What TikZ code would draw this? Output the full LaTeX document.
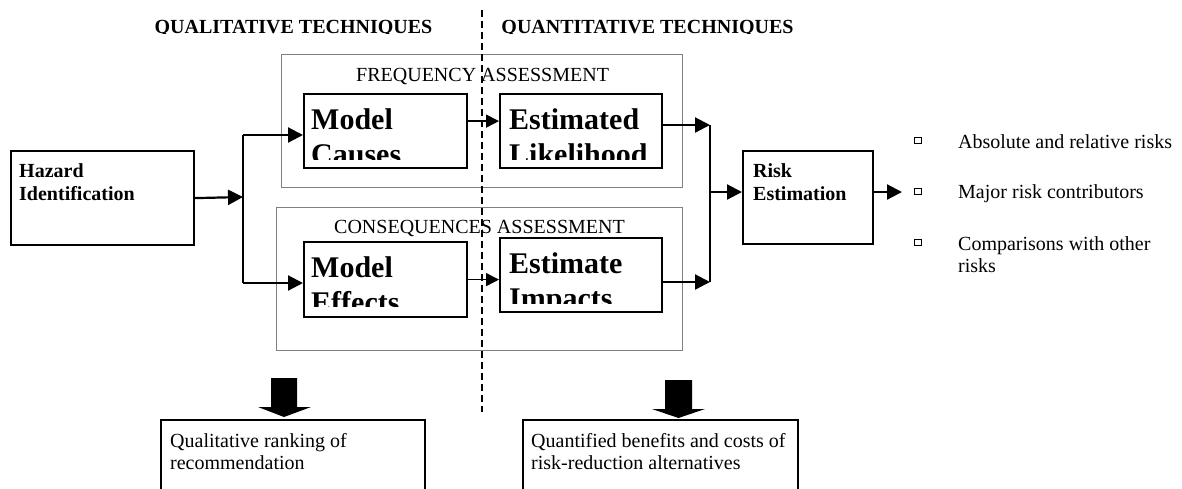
\documentclass[tikz,border=0pt]{standalone}
\usepackage{fontspec}
\setmainfont{Liberation Serif}
\usetikzlibrary{arrows.meta}

\begin{document}
\begin{tikzpicture}[x=1pt,y=-1pt,
	box/.style={draw,line width=2.2pt,inner sep=0pt,anchor=north west},
	area/.style={draw=gray,line width=1pt,inner sep=0pt,anchor=north west},
	link/.style={line width=2.2pt},
	conn/.style={line width=2.2pt,-{Triangle[length=15pt,width=15pt]}},
	thinconn/.style={line width=1.5pt,-{Triangle[length=13pt,width=13pt]}},
	divider/.style={line width=2pt,dash pattern=on 7pt off 4pt},
	header/.style={font=\fontsize{20}{23}\selectfont\bfseries,inner sep=0pt,anchor=base},
	title/.style={font=\fontsize{20}{23}\selectfont,inner sep=0pt,anchor=base west},
	bold/.style={font=\fontsize{20}{23}\selectfont\bfseries,inner sep=0pt,anchor=north west,align=left},
	big/.style={font=\fontsize{30}{35}\selectfont\bfseries,inner sep=0pt,anchor=north west,align=left},
	plain/.style={font=\fontsize{20}{22}\selectfont,inner sep=0pt,anchor=north west,align=left},
	item/.style={font=\fontsize{20}{23}\selectfont,inner sep=0pt,anchor=base west},
	bullet/.style={draw,line width=1pt,inner sep=0pt,minimum width=7pt,minimum height=6pt}
]
	\useasboundingbox (0,0) rectangle (1182,488);

	% Headers
	\begin{scope}
		\clip (0,0) rectangle (1182,33.5);
		\node[header] (qualhead) at (293.5,33) {QUALITATIVE TECHNIQUES};
		\node[header] (quanthead) at (647.5,33) {QUANTITATIVE TECHNIQUES};
	\end{scope}

	% Assessment areas
	\node[area,minimum width=401pt,minimum height=133pt] (freq) at (281,54) {};
	\node[area,minimum width=406pt,minimum height=143pt] (cons) at (276,207) {};
	\node[title] (freqtitle) at (356,81) {FREQUENCY ASSESSMENT};
	\node[title] (constitle) at (334,233) {CONSEQUENCES ASSESSMENT};

	% Boxes
	\node[box,minimum width=183pt,minimum height=94pt] (hazard) at (10,150) {};
	\node[box,minimum width=163pt,minimum height=74pt] (causes) at (303,93) {};
	\node[box,minimum width=162pt,minimum height=74pt] (likely) at (499,93) {};
	\node[box,minimum width=163pt,minimum height=75pt] (effects) at (303,241) {};
	\node[box,minimum width=162pt,minimum height=74pt] (impacts) at (499,237) {};
	\node[box,minimum width=130pt,minimum height=93pt] (risk) at (742,150) {};
	\node[box,minimum width=264pt,minimum height=80pt] (qualout) at (160,419) {};
	\node[box,minimum width=275pt,minimum height=80pt] (quantout) at (522,419) {};

	% Labels
	\node[bold] (hazardtext) at (19,163.5) {Hazard\\Identification};
	\node[bold] (risktext) at (753,163.5) {Risk\\Estimation};
	\begin{scope}
		\clip (303,93) rectangle (466,159);
		\node[big] (causestext) at (311,108.7) {Model\\Causes};
	\end{scope}
	\begin{scope}
		\clip (499,93) rectangle (661,159);
		\node[big] (likelytext) at (509,108.7) {Estimated\\Likelihood};
	\end{scope}
	\begin{scope}
		\clip (303,241) rectangle (466,306);
		\node[big] (effectstext) at (311,256.7) {Model\\Effects};
	\end{scope}
	\begin{scope}
		\clip (499,237) rectangle (661,303);
		\node[big] (impactstext) at (509,252.7) {Estimate\\Impacts};
	\end{scope}
	\node[plain] (qualtext) at (170,433.3) {Qualitative ranking of\\recommendation};
	\node[plain] (quanttext) at (531,433.3) {Quantified benefits and costs of\\risk-reduction alternatives};

	% Divider
	\draw[divider] (481.5,10) -- (481.5,412);

	% Left junction
	\coordinate (jl) at (243,197);
	\coordinate (jtop) at (243,135);
	\coordinate (jbot) at (243,283);
	\draw[conn] (hazard.east) -- (jl);
	\draw[link] (jtop) -- (jbot);
	\draw[conn] (jtop) -- (causes.west |- jtop);
	\draw[conn] (jbot) -- (effects.west |- jbot);

	% Across the divider
	\draw[thinconn] ([yshift=10pt]causes.east) -- ([yshift=10pt]likely.west);
	\draw[thinconn] (effects.east) -- (effects.east -| impacts.west);

	% Right junction
	\coordinate (jrtop) at (710,125);
	\coordinate (jrbot) at (710,282);
	\coordinate (jr) at (710,192);
	\coordinate (out) at (902,192);
	\draw[conn] (likely.east |- jrtop) -- (jrtop);
	\draw[conn] (impacts.east |- jrbot) -- (jrbot);
	\draw[link] (jrtop) -- (jrbot);
	\draw[conn] (jr) -- (risk.west |- jr);
	\draw[conn] (risk.east |- jr) -- (out);

	% Results
	\node[bullet] (b1) at (918,140) {};
	\node[bullet] (b2) at (918,191) {};
	\node[bullet] (b3) at (918,242) {};
	\node[item] (t1) at (958,148) {Absolute and relative risks};
	\node[item] (t2) at (958,198) {Major risk contributors};
	\node[plain] (t3) at (958,236.3) {Comparisons with other\\risks};

	% Block arrows
	\fill (271,378) -- (297,378) -- (297,407) -- (311,407) -- (284,417) -- (258,407) -- (271,407) -- cycle;
	\fill (665,380) -- (692,380) -- (692,409) -- (705,409) -- (678.5,418) -- (652,409) -- (665,409) -- cycle;
\end{tikzpicture}
\end{document}
